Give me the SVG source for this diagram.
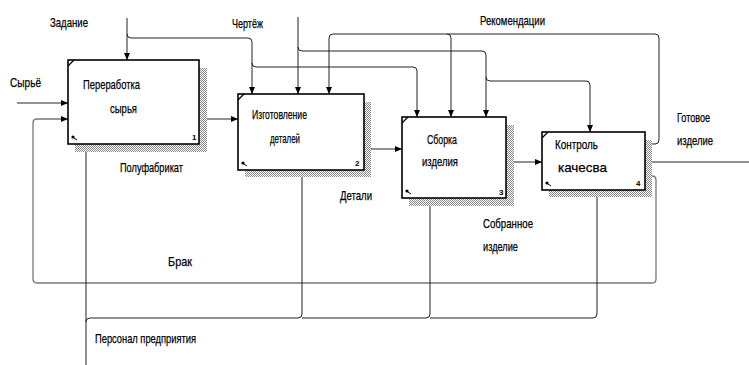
<svg xmlns="http://www.w3.org/2000/svg" width="749" height="365" viewBox="0 0 749 365">
<style>
.bx{fill:#fff;stroke:#000;stroke-width:1.6}
.sh{fill:url(#hatch)}
.ln{fill:none;stroke:#222;stroke-width:1}
.lg{fill:none;stroke:#777;stroke-width:1.3}
.ar{marker-end:url(#ah)}
text{font-family:"Liberation Sans Narrow","Liberation Sans",Arial,sans-serif;font-size:13.5px;fill:#000;stroke:#000;stroke-width:0.25}
.n{font-size:8px;font-weight:bold;stroke:none}
</style>
<defs>
<pattern id="hatch" width="2" height="2" patternUnits="userSpaceOnUse">
<rect width="2" height="2" fill="#fff"/>
<rect width="1" height="1" fill="#888"/>
<rect x="1" y="1" width="1" height="1" fill="#888"/>
</pattern>
<marker id="ah" markerUnits="userSpaceOnUse" markerWidth="7" markerHeight="6" refX="7" refY="3" orient="auto">
<path d="M0,0 L7,3 L0,6 z" fill="#000"/>
</marker>
</defs>

<g id="connectors">
<path class="ln ar" d="M17,103 H68"/>
<path class="ln ar" d="M127,18 V60"/>
<path class="ln ar" d="M127,34 Q127,38 131,38 H248 Q252,38 252,42 V94"/>
<path class="ln ar" d="M252,63 Q252,67 256,67 H413 Q417,67 417,71 V117"/>
<path class="ln ar" d="M298,17 V94"/>
<path class="ln ar" d="M298,47 Q298,51 302,51 H482 Q486,51 486,55 V117"/>
<path class="ln ar" d="M486,77 Q486,81 490,81 H586 Q590,81 590,85 V132"/>
<path class="ln ar" d="M645,144 H655 Q659,144 659,140 V38 Q659,34 655,34 H333 Q329,34 329,38 V94"/>
<path class="ln ar" d="M447,34 Q451,34 451,38 V117"/>
<path class="lg ar" d="M645,176 H652 Q656,176 656,180 V279 Q656,283 652,283 H37 Q33,283 33,279 V123 Q33,119 37,119 H68"/>
<path class="ln ar" d="M199,119 H238"/>
<path class="ln ar" d="M364,149 H402"/>
<path class="ln ar" d="M506,162 H542"/>
<path class="ln" d="M645,162 H749"/>
<path class="ln ar" d="M86,365 V144"/>
<path class="ln ar" d="M86,322 Q86,318 90,318 H298 Q302,318 302,314 V170"/>
<path class="ln ar" d="M302,318 H426 Q430,318 430,314 V198"/>
<path class="ln ar" d="M430,318 H593 Q597,318 597,314 V190"/>
</g>

<g id="node1">
<path class="sh" d="M199,68 H207 V152 H75 V144 H199 Z"/>
<rect class="bx" x="68" y="60" width="131" height="84"/>
<path d="M68,66 L74,60" stroke="#000" stroke-width="1.2"/>
<circle cx="73" cy="137" r="1.6" fill="#000"/><path d="M74,138 L77,140" stroke="#000"/>
<text x="83" y="89" textLength="57" lengthAdjust="spacingAndGlyphs">Переработка</text>
<text x="110" y="113" textLength="27" lengthAdjust="spacingAndGlyphs">сырья</text>
<text class="n" x="192" y="140">1</text>
</g>

<g id="node2">
<path class="sh" d="M364,102 H371 V177 H245 V170 H364 Z"/>
<rect class="bx" x="238" y="94" width="126" height="76"/>
<path d="M238,100 L244,94" stroke="#000" stroke-width="1.2"/>
<circle cx="243" cy="163" r="1.6" fill="#000"/><path d="M244,164 L247,166" stroke="#000"/>
<text x="252" y="119" textLength="55" lengthAdjust="spacingAndGlyphs">Изготовление</text>
<text x="270" y="143" textLength="30" lengthAdjust="spacingAndGlyphs">деталей</text>
<text class="n" x="355" y="166">2</text>
</g>

<g id="node3">
<path class="sh" d="M506,125 H514 V206 H409 V198 H506 Z"/>
<rect class="bx" x="402" y="117" width="104" height="81"/>
<path d="M402,123 L408,117" stroke="#000" stroke-width="1.2"/>
<circle cx="407" cy="191" r="1.6" fill="#000"/><path d="M408,192 L411,194" stroke="#000"/>
<text x="427" y="144" textLength="30" lengthAdjust="spacingAndGlyphs">Сборка</text>
<text x="422" y="166" textLength="36" lengthAdjust="spacingAndGlyphs">изделия</text>
<text class="n" x="499" y="195">3</text>
</g>

<g id="node4">
<path class="sh" d="M645,140 H652 V197 H549 V190 H645 Z"/>
<rect class="bx" x="542" y="132" width="103" height="58"/>
<path d="M542,138 L548,132" stroke="#000" stroke-width="1.2"/>
<circle cx="547" cy="183" r="1.6" fill="#000"/><path d="M548,184 L551,186" stroke="#000"/>
<text x="555" y="149" textLength="43" lengthAdjust="spacingAndGlyphs">Контроль</text>
<text x="558" y="172" textLength="49" lengthAdjust="spacingAndGlyphs">качесва</text>
<text class="n" x="636" y="186">4</text>
</g>

<g id="labels">
<text x="50" y="27" textLength="38" lengthAdjust="spacingAndGlyphs">Задание</text>
<text x="10" y="87" textLength="31" lengthAdjust="spacingAndGlyphs">Сырьё</text>
<text x="232" y="28" textLength="31" lengthAdjust="spacingAndGlyphs">Чертёж</text>
<text x="480" y="25" textLength="65" lengthAdjust="spacingAndGlyphs">Рекомендации</text>
<text x="677" y="122" textLength="33" lengthAdjust="spacingAndGlyphs">Готовое</text>
<text x="677" y="145" textLength="36" lengthAdjust="spacingAndGlyphs">изделие</text>
<text x="120" y="172" textLength="63" lengthAdjust="spacingAndGlyphs">Полуфабрикат</text>
<text x="340" y="200" textLength="32" lengthAdjust="spacingAndGlyphs">Детали</text>
<text x="168" y="266" textLength="24" lengthAdjust="spacingAndGlyphs">Брак</text>
<text x="95" y="343" textLength="101" lengthAdjust="spacingAndGlyphs">Персонал предприятия</text>
<text x="483" y="228" textLength="50" lengthAdjust="spacingAndGlyphs">Собранное</text>
<text x="483" y="251" textLength="35" lengthAdjust="spacingAndGlyphs">изделие</text>
</g>
</svg>
